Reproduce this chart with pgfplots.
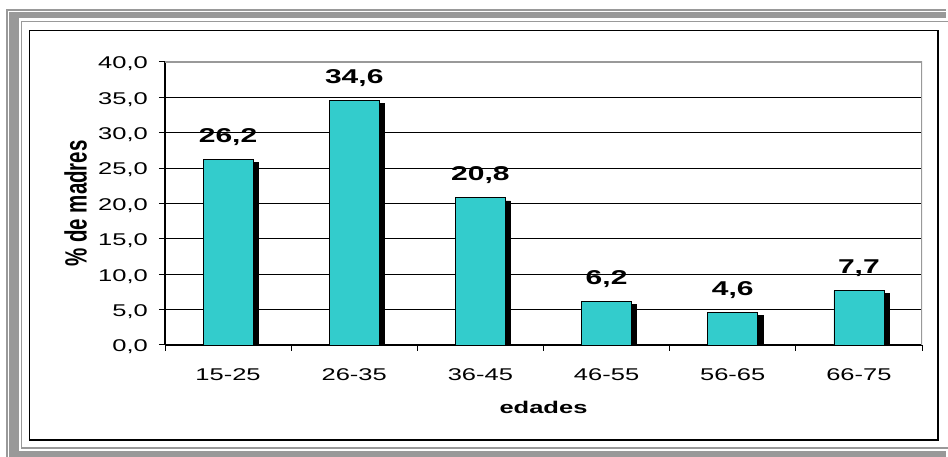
\documentclass[border=0pt]{standalone}
\usepackage{fontspec}
\setmainfont{Liberation Sans}[FakeStretch=1.5]
\newfontfamily\plainfont{Liberation Sans}
\usepackage{graphicx}
\usepackage{pgfplots}
\pgfplotsset{compat=1.18}
\definecolor{barcol}{HTML}{33CCCC}
\definecolor{framegray}{HTML}{999999}

\pgfplotstableread{
x y
0 26.2
1 34.6
2 20.8
3 6.2
4 4.6
5 7.7
}\datatable

\begin{document}
\begin{tikzpicture}[x=1pt,y=1pt]
\useasboundingbox (0,0) rectangle (948,457);
% frame
\fill[framegray] (6,-20) rectangle (946,448);
\draw[white, line width=0.8pt] (8.3,-20) -- (8.3,446) -- (946,446);
\fill[white] (18.5,5.5) rectangle (946,438.5);
\draw[framegray, line width=1.2pt] (21.5,9) rectangle (960,435.5);
\draw[black, line width=1.5pt, fill=white] (29.5,17) rectangle (938,426.5);
\begin{axis}[
  at={(165pt,112pt)}, anchor=south west,
  scale only axis, width=757pt, height=283pt,
  xmin=-0.5, xmax=5.5, ymin=0, ymax=40,
  ytick={0,5,...,40},
  xtick={-0.5,0.5,...,5.5},
  xticklabels={},
  extra x ticks={0,1,2,3,4,5},
  extra x tick labels={15-25,26-35,36-45,46-55,56-65,66-75},
  extra x tick style={major tick length=0pt, tick style={draw=none},
    xticklabel style={anchor=base, inner sep=0pt, yshift=-36pt}},
  tick align=outside,
  major tick length=6pt,
  tick style={black, line width=1pt},
  ymajorgrids, grid style={black, line width=0.9pt},
  axis x line*=bottom, axis y line*=left,
  axis line style={black, line width=1.3pt, -},
  ybar, bar width=50pt,
  /pgf/number format/fixed,
  /pgf/number format/fixed zerofill,
  /pgf/number format/precision=1,
  /pgf/number format/use comma,
  /pgf/number format/assume math mode=true,
  ticklabel style={font=\fontsize{17}{20}\selectfont},
  yticklabel style={anchor=east, inner sep=0pt, yshift=-2pt, xshift=-11pt},
  xlabel={\bfseries edades},
  xlabel style={font=\fontsize{17}{20}\selectfont, at={(axis description cs:0.5,-0.2438)}, anchor=base, inner sep=0pt},
  ylabel={\scalebox{1}[1.5]{\plainfont\bfseries\% de madres}},
  ylabel style={font=\fontsize{20.5}{22}\selectfont, at={(axis description cs:-0.1182,0.5)}, anchor=center, inner sep=0pt},
]
\addplot[fill=black, draw=black, bar shift=5pt, yshift=-3pt, forget plot] table[x=x,y=y] {\datatable};
\addplot[fill=barcol, draw=black, line width=0.8pt, bar shift=0pt,
  nodes near coords,
  every node near coord/.append style={font=\fontsize{20}{22}\selectfont\bfseries, anchor=base, yshift=17pt, inner sep=0pt}]
  table[x=x,y=y] {\datatable};
\draw[framegray, line width=1.2pt] (rel axis cs:0,1) -- (rel axis cs:1,1) -- (rel axis cs:1,0);
\end{axis}
\end{tikzpicture}
\end{document}
